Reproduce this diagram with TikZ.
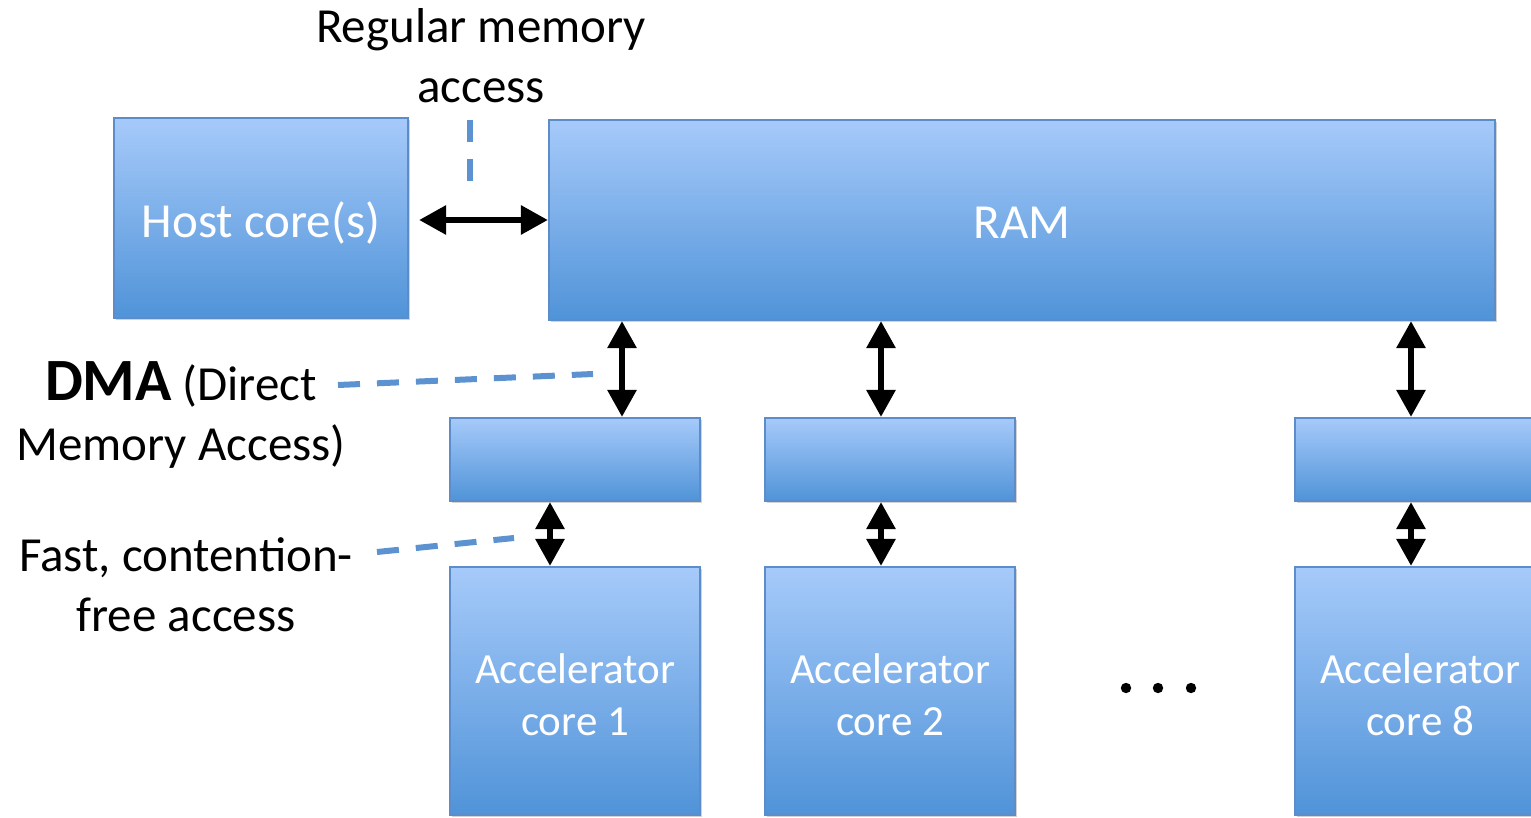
\documentclass[tikz,border=0pt]{standalone}
\usepackage{fontspec}
\setmainfont{Carlito}
\usetikzlibrary{arrows.meta,shadows,calc}

\definecolor{boxtop}{RGB}{166,202,250}
\definecolor{boxbot}{RGB}{80,147,216}
\definecolor{boxline}{RGB}{92,140,202}
\definecolor{dashblue}{RGB}{92,146,208}

\tikzset{
  block/.style={draw=boxline, line width=1.1pt, top color=boxtop, bottom color=boxbot,
    inner sep=0pt,
    drop shadow={shadow xshift=1pt, shadow yshift=-1.2pt, opacity=0.35}},
  bigtext/.style={font=\fontsize{24.5}{30}\selectfont, text=white, align=center, inner sep=0pt},
  acctext/.style={font=\fontsize{21.5}{26}\selectfont, text=white, align=center, inner sep=0pt},
  biarrow/.style={line width=3pt, {Triangle[length=13.5pt,width=14pt]}-{Triangle[length=13.5pt,width=14pt]}},
  hint/.style={draw=dashblue, line width=3pt, dash pattern=on 11pt off 8.5pt},
  note/.style={align=center, inner sep=0pt, font=\fontsize{24.5}{30}\selectfont}
}

\begin{document}
\begin{tikzpicture}[x=0.5pt, y=-0.5pt]
  \useasboundingbox (0,0) rectangle (1531,818);
  \clip (0,0) rectangle (1531,818);

  % memory and host
  \node[block, minimum width=147pt, minimum height=100pt,
    label={[bigtext, yshift=-2.5pt]center:Host core(s)}] (host) at (261,218) {};
  \node[block, minimum width=473pt, minimum height=100pt,
    label={[bigtext, yshift=-1.5pt]center:RAM}] (ram) at (1022,220) {};

  % local stores
  \node[block, minimum width=125pt, minimum height=41.5pt] (ls1) at (575,459.5) {};
  \node[block, minimum width=125pt, minimum height=41.5pt] (ls2) at (890,459.5) {};
  \node[block, minimum width=125pt, minimum height=41.5pt] (ls8) at (1420,459.5) {};

  % accelerator cores
  \node[block, minimum width=125pt, minimum height=124pt,
    label={[acctext, yshift=-2pt]center:Accelerator\\core 1}] (acc1) at (575,691) {};
  \node[block, minimum width=125pt, minimum height=124pt,
    label={[acctext, yshift=-2pt]center:Accelerator\\core 2}] (acc2) at (890,691) {};
  \node[block, minimum width=125pt, minimum height=124pt,
    label={[acctext, yshift=-2pt]center:Accelerator\\core 8}] (acc8) at (1420,691) {};

  % ellipsis between the cores
  \foreach \x [count=\i] in {1126,1158,1191}
    \fill (\x,688) circle (2.6pt) coordinate (dot\i);

  % arrow columns
  \coordinate (up1) at (622,0);
  \coordinate (up2) at (881,0);
  \coordinate (up8) at (1411,0);
  \coordinate (lo1) at (550,0);
  \coordinate (lo2) at (881,0);
  \coordinate (lo8) at (1411,0);

  % host <-> RAM
  \draw[biarrow, shorten <=5pt] (host.east |- ram.west) -- (ram.west);

  % RAM <-> local stores
  \draw[biarrow] (ram.south -| up1) -- (ls1.north -| up1);
  \draw[biarrow] (ram.south -| up2) -- (ls2.north -| up2);
  \draw[biarrow] (ram.south -| up8) -- (ls8.north -| up8);

  % local stores <-> cores
  \draw[biarrow] (ls1.south -| lo1) -- (acc1.north -| lo1);
  \draw[biarrow] (ls2.south -| lo2) -- (acc2.north -| lo2);
  \draw[biarrow] (ls8.south -| lo8) -- (acc8.north -| lo8);

  % annotations
  \node[note] (regular) at (481,56) {Regular memory\\access};
  \node[note] (dma) at (181,415) {{\fontsize{30}{30}\selectfont\bfseries DMA} (Direct\\Memory Access)};
  \node[note] (fast) at (186,585) {Fast, contention-\\free access};

  \coordinate (r1) at (470,120);
  \coordinate (r2) at (470,182);
  \draw[hint] (r1) -- (r2);

  \coordinate (d1) at (338,385);
  \coordinate (d2) at (593,374);
  \draw[hint] (d1) -- (d2);

  \coordinate (f1) at (377,552);
  \coordinate (f2) at (514,538);
  \draw[hint] (f1) -- (f2);
\end{tikzpicture}
\end{document}
